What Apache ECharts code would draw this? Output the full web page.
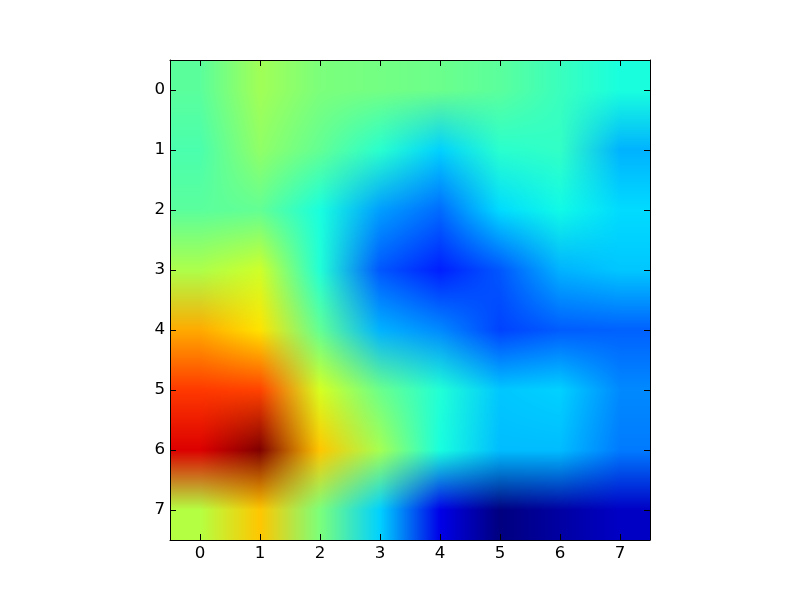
<!DOCTYPE html>
<html>
<head>
<meta charset="utf-8">
<style>
html, body { margin: 0; background: #fff; }
#main { width: 800px; height: 600px; }
</style>
<script src="https://cdn.jsdelivr.net/npm/echarts@6/dist/echarts.min.js"></script>
</head>
<body>
<div id="main"></div>
<script>
var tickValues = [0, 1, 2, 3, 4, 5, 6, 7];

// jet value of each cell, one array per row
var row0 = [0.46, 0.545, 0.50, 0.49, 0.48, 0.46, 0.42, 0.38];
var row1 = [0.44, 0.525, 0.47, 0.40, 0.33, 0.40, 0.41, 0.30];
var row2 = [0.46, 0.47, 0.38, 0.28, 0.23, 0.34, 0.37, 0.34];
var row3 = [0.56, 0.60, 0.39, 0.21, 0.155, 0.21, 0.30, 0.32];
var row4 = [0.73, 0.67, 0.47, 0.30, 0.26, 0.19, 0.215, 0.22];
var row5 = [0.85, 0.84, 0.61, 0.48, 0.39, 0.32, 0.33, 0.26];
var row6 = [0.92, 1.0, 0.70, 0.55, 0.38, 0.31, 0.31, 0.245];
var row7 = [0.57, 0.70, 0.50, 0.33, 0.09, 0.0, 0.03, 0.06];
var rows = [row0, row1, row2, row3, row4, row5, row6, row7];

function clamp01(v) {
    return Math.max(0, Math.min(1, v));
}
// matplotlib jet
function jet(v) {
    var r = v < 0.89 ? clamp01((v - 0.35) / 0.31) : 1 - (v - 0.89) / 0.11 * 0.5;
    var g = v < 0.64 ? clamp01((v - 0.125) / 0.25) : clamp01((0.91 - v) / 0.27);
    var b = v < 0.34 ? (v < 0.11 ? 0.5 + v / 0.11 * 0.5 : 1) : clamp01((0.65 - v) / 0.31);
    return [r * 255, g * 255, b * 255];
}

// the colours of the cells are blended bilinearly, like imshow does it on an RGB image
var imageSize = 480;
var cellColors = rows.map(function(row) {
    return row.map(jet);
});
var cellCanvas = document.createElement('canvas');
cellCanvas.width = imageSize;
cellCanvas.height = imageSize;
var cellCtx = cellCanvas.getContext('2d');
var imageData = cellCtx.createImageData(imageSize, imageSize);
for (var py = 0; py < imageSize; py++) {
    var fy = Math.max(0, Math.min(rows.length - 1, (py + 0.5) / imageSize * rows.length - 0.5));
    var y0 = Math.min(rows.length - 2, Math.floor(fy));
    for (var px = 0; px < imageSize; px++) {
        var fx = Math.max(0, Math.min(tickValues.length - 1, (px + 0.5) / imageSize * tickValues.length - 0.5));
        var x0 = Math.min(tickValues.length - 2, Math.floor(fx));
        var tx = fx - x0, ty = fy - y0;
        for (var k = 0; k < 3; k++) {
            imageData.data[(py * imageSize + px) * 4 + k] =
                (cellColors[y0][x0][k] * (1 - tx) + cellColors[y0][x0 + 1][k] * tx) * (1 - ty) +
                (cellColors[y0 + 1][x0][k] * (1 - tx) + cellColors[y0 + 1][x0 + 1][k] * tx) * ty;
        }
        imageData.data[(py * imageSize + px) * 4 + 3] = 255;
    }
}
cellCtx.putImageData(imageData, 0, 0);

var cells = [];
rows.forEach(function(row, y) {
    row.forEach(function(v, x) {
        cells.push([x, y, v]);
    });
});

function makeAxis(position, inverse, showLabel) {
    return {
        type: 'value',
        position: position,
        inverse: inverse,
        min: -0.5,
        max: 7.5,
        z: 5,
        splitLine: { show: false },
        axisLine: { show: true, onZero: false, lineStyle: { color: '#000', width: 1 } },
        axisTick: {
            show: true,
            inside: true,
            length: 6,
            customValues: tickValues,
            lineStyle: { color: '#000', width: 1 }
        },
        axisLabel: {
            show: showLabel,
            margin: 5,
            customValues: tickValues,
            fontFamily: 'DejaVu Sans',
            fontSize: 16.67,
            color: '#000'
        }
    };
}

var chart = echarts.init(document.getElementById('main'), null, { renderer: 'canvas' });
chart.setOption({
    animation: false,
    backgroundColor: '#fff',
    grid: { left: 170, right: 150, top: 60, bottom: 60 },
    xAxis: [makeAxis('bottom', false, true), makeAxis('top', false, false)],
    yAxis: [makeAxis('left', true, true), makeAxis('right', true, false)],
    series: [{
        type: 'custom',
        coordinateSystem: 'cartesian2d',
        silent: true,
        clip: false,
        data: cells,
        renderItem: function(params, api) {
            // the whole picture is one image, hung on the first cell
            if (params.dataIndex !== 0) {
                return null;
            }
            var a = api.coord([-0.5, -0.5]);
            var b = api.coord([7.5, 7.5]);
            return {
                type: 'image',
                style: {
                    image: cellCanvas,
                    x: a[0],
                    y: a[1],
                    width: b[0] - a[0],
                    height: b[1] - a[1]
                }
            };
        }
    }]
});
</script>
</body>
</html>
